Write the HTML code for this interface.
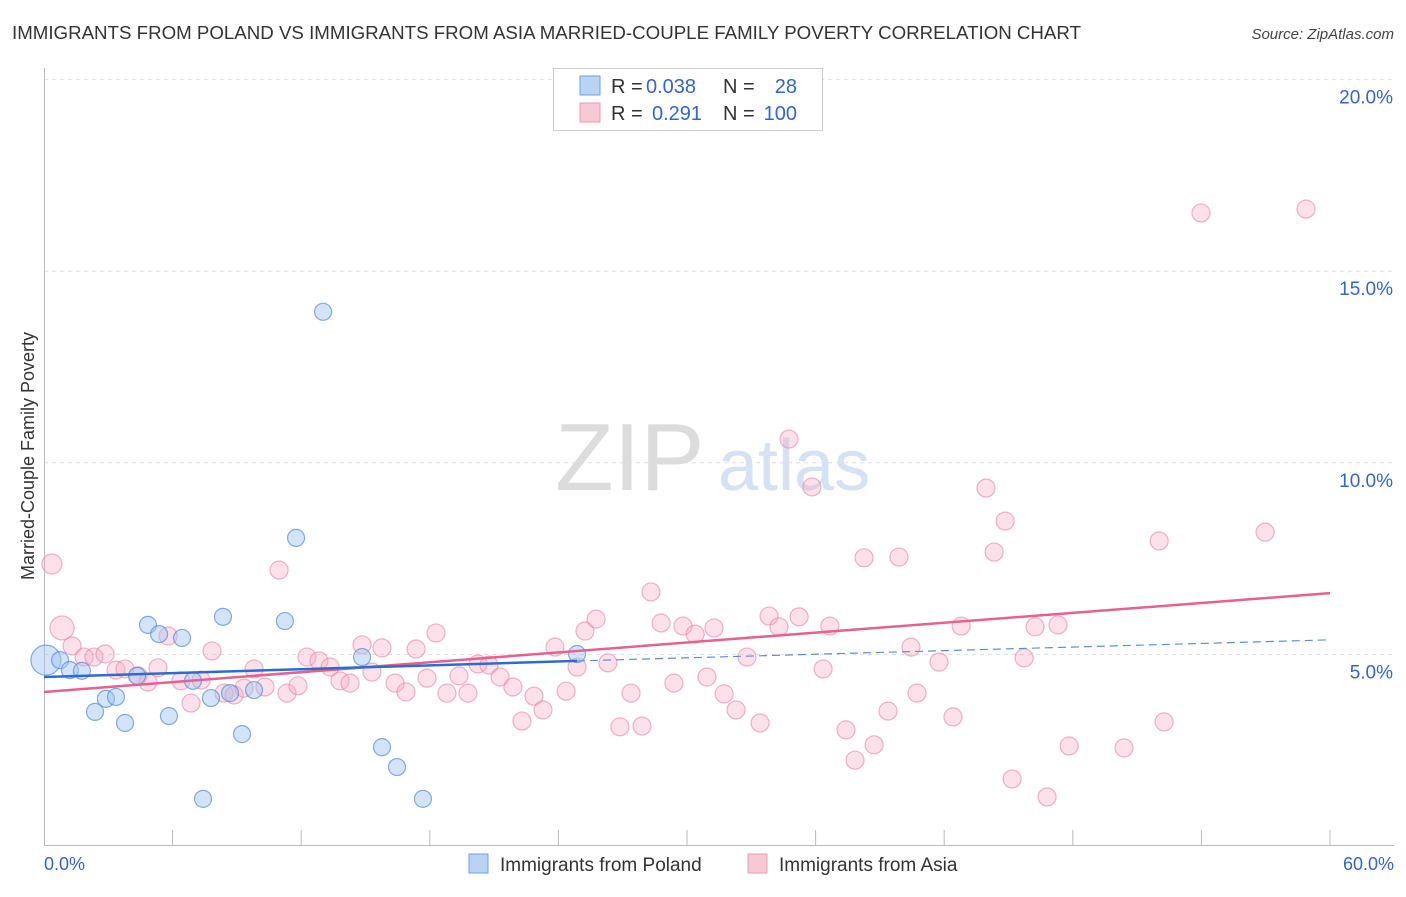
<!DOCTYPE html>
<html><head><meta charset="utf-8"><style>
body{margin:0;background:#fff;font-family:"Liberation Sans",sans-serif}
svg text{font-family:"Liberation Sans",sans-serif}
</style></head><body>
<svg id="chart" width="1406" height="892" xmlns="http://www.w3.org/2000/svg">
<text x="12" y="39" font-size="18" fill="#333" textLength="1069" lengthAdjust="spacingAndGlyphs">IMMIGRANTS FROM POLAND VS IMMIGRANTS FROM ASIA MARRIED-COUPLE FAMILY POVERTY CORRELATION CHART</text>
<text x="1394" y="39" font-size="15" fill="#444" text-anchor="end" font-style="italic">Source: ZipAtlas.com</text>
<g id="grid"></g>
<text x="555" y="490" font-size="96" fill="#dcdcdc" font-family="Liberation Serif">ZIP</text>
<text x="718" y="490" font-size="72" fill="#d4e2f4">atlas</text>
<g id="marks"></g>
<text transform="translate(34,456) rotate(-90)" font-size="18" fill="#333" text-anchor="middle">Married-Couple Family Poverty</text>
<text x="44" y="870" font-size="18" fill="#3366cc">0.0%</text>
<text x="1394" y="870" font-size="18" fill="#3366cc" text-anchor="end">60.0%</text>
<g>
<rect x="553.5" y="68.5" width="269" height="62" fill="#fff" stroke="#ccc"/>
<rect x="580" y="76" width="20" height="19" fill="#b9d3f5" stroke="#6f9fe0"/>
<rect x="580" y="103" width="20" height="19" fill="#f9c8d6" stroke="#ee9ab3"/>
<text x="611" y="93" font-size="20" fill="#333">R =</text>
<text x="646" y="93" font-size="20" fill="#3366cc">0.038</text>
<text x="723" y="93" font-size="20" fill="#333">N =</text>
<text x="797" y="93" font-size="20" fill="#3366cc" text-anchor="end">28</text>
<text x="611" y="120" font-size="20" fill="#333">R =</text>
<text x="652" y="120" font-size="20" fill="#3366cc">0.291</text>
<text x="723" y="120" font-size="20" fill="#333">N =</text>
<text x="797" y="120" font-size="20" fill="#3366cc" text-anchor="end">100</text>
</g>
<g>
<rect x="469" y="854" width="19" height="19" fill="#b9d3f5" stroke="#6f9fe0"/>
<text x="500" y="871" font-size="19" fill="#333">Immigrants from Poland</text></g>
<g>
<rect x="748" y="854" width="19" height="19" fill="#f9c8d6" stroke="#ee9ab3"/>
<text x="779" y="871" font-size="19" fill="#333">Immigrants from Asia</text></g>
</svg>
<script>
const yTicks=[5,10,15,20];
const xTickVals=[6,12,18,24,30,36,42,48,54,60];
const polandX=[0.09,0.75,1.21,1.77,2.38,2.89,3.36,3.78,4.34,4.85,5.37,5.83,6.44,6.95,7.42,7.79,8.35,8.68,9.24,9.80,11.24,11.76,13.02,14.84,15.77,16.47,17.68,24.87];
const polandY=[4.85,4.85,4.59,4.57,3.50,3.84,3.89,3.21,4.44,5.77,5.53,3.39,5.43,4.31,1.23,3.86,5.98,3.99,2.92,4.07,5.87,8.04,13.94,4.93,2.58,2.06,1.23,5.01];
const asiaX=[0.37,0.84,1.31,1.87,2.33,2.85,3.36,3.78,4.39,4.85,5.32,5.79,6.39,6.86,7.33,7.84,8.40,8.87,9.33,9.80,10.31,10.97,11.34,11.85,12.27,12.83,13.35,13.81,14.28,14.84,15.30,15.77,16.38,16.89,17.36,17.87,18.29,18.80,19.36,19.78,20.25,20.76,21.28,21.88,22.30,22.86,23.28,23.84,24.36,24.87,25.24,25.76,26.31,26.87,27.39,27.90,28.32,28.79,29.39,29.81,30.38,30.93,31.26,31.73,32.29,32.80,33.41,33.83,34.29,34.76,35.23,35.83,36.35,36.67,37.42,37.84,38.26,38.73,39.38,39.89,40.45,40.73,41.76,42.41,42.79,43.95,44.33,44.84,45.17,45.73,46.24,46.80,47.31,47.83,50.39,52.03,52.26,53.98,56.97,58.88];
const asiaY=[7.36,5.69,5.22,4.93,4.93,5.01,4.59,4.62,4.44,4.28,4.65,5.48,4.31,3.73,4.33,5.09,3.99,3.94,4.12,4.62,4.15,7.20,3.99,4.18,4.93,4.83,4.67,4.31,4.25,5.25,4.54,5.17,4.25,4.02,5.14,4.38,5.56,3.99,4.44,3.99,4.75,4.72,4.41,4.15,3.26,3.91,3.55,5.19,4.04,4.67,5.61,5.92,4.78,3.11,3.99,3.13,6.63,5.82,4.25,5.74,5.53,4.41,5.69,3.97,3.55,4.93,3.21,6.00,5.72,10.62,5.98,9.37,4.62,5.74,3.03,2.24,7.52,2.64,3.52,7.54,5.19,3.99,4.80,3.37,5.74,9.34,7.67,8.48,1.75,4.91,5.72,1.28,5.77,2.61,2.56,7.96,3.24,16.52,8.19,16.62];
const polandTrend=[4.41,4.83,5.38];
const asiaTrend=[4.02,6.60];
const NS='http://www.w3.org/2000/svg';
const X=v=>44+v/60*1286, Y=v=>846-v*38.32;
function mk(t,a,p){const e=document.createElementNS(NS,t);for(const k in a)e.setAttribute(k,a[k]);p.appendChild(e);return e;}
const grid=document.getElementById('grid'),marks=document.getElementById('marks');
for(const t of yTicks){
 const l=mk('line',{x1:44,x2:1394,y1:Y(t),y2:Y(t),stroke:'#ddd','stroke-dasharray':'4 4'},grid);
 
 
 const tx=mk('text',{x:1393,y:Y(t)+24,'font-size':19,fill:'#3366cc','text-anchor':'end'},grid);tx.textContent=t.toFixed(1)+'%';
 
 
}
const ax=mk('line',{x1:44,x2:1394,y1:845.5,y2:845.5,stroke:'#bbb'},grid);


const ay=mk('line',{x1:44.5,x2:44.5,y1:68,y2:846,stroke:'#bbb'},grid);


for(const t of xTickVals){const tk=mk('line',{x1:X(t),x2:X(t),y1:830,y2:846,stroke:'#bbb'},grid);
 
 }
for(let i=0;i<asiaX.length;i++){
 const c=mk('circle',{cx:X(asiaX[i]),cy:Y(asiaY[i]),r:i===1?12:(i===0?10:9),fill:'rgba(246,170,195,0.35)',stroke:'rgba(232,130,160,0.6)','stroke-width':1.2},marks);
 
 
}
for(let i=0;i<polandX.length;i++){
 const c=mk('circle',{cx:X(polandX[i]),cy:Y(polandY[i]),r:i===0?15:8.5,fill:'rgba(160,196,240,0.45)',stroke:'rgba(80,140,220,0.7)','stroke-width':1.2},marks);
 
 
}
const at=mk('line',{x1:X(0),y1:Y(asiaTrend[0]),x2:X(60),y2:Y(asiaTrend[1]),stroke:'#e8608c','stroke-width':2.5},marks);


const pt=mk('line',{x1:X(0),y1:Y(polandTrend[0]),x2:X(24.87),y2:Y(polandTrend[1]),stroke:'#2a6dd0','stroke-width':2.5},marks);


const pd=mk('line',{x1:X(24.87),y1:Y(polandTrend[1]),x2:X(60),y2:Y(polandTrend[2]),stroke:'#5a8fd8','stroke-width':1.2,'stroke-dasharray':'8 5'},marks);


</script>
</body></html>
